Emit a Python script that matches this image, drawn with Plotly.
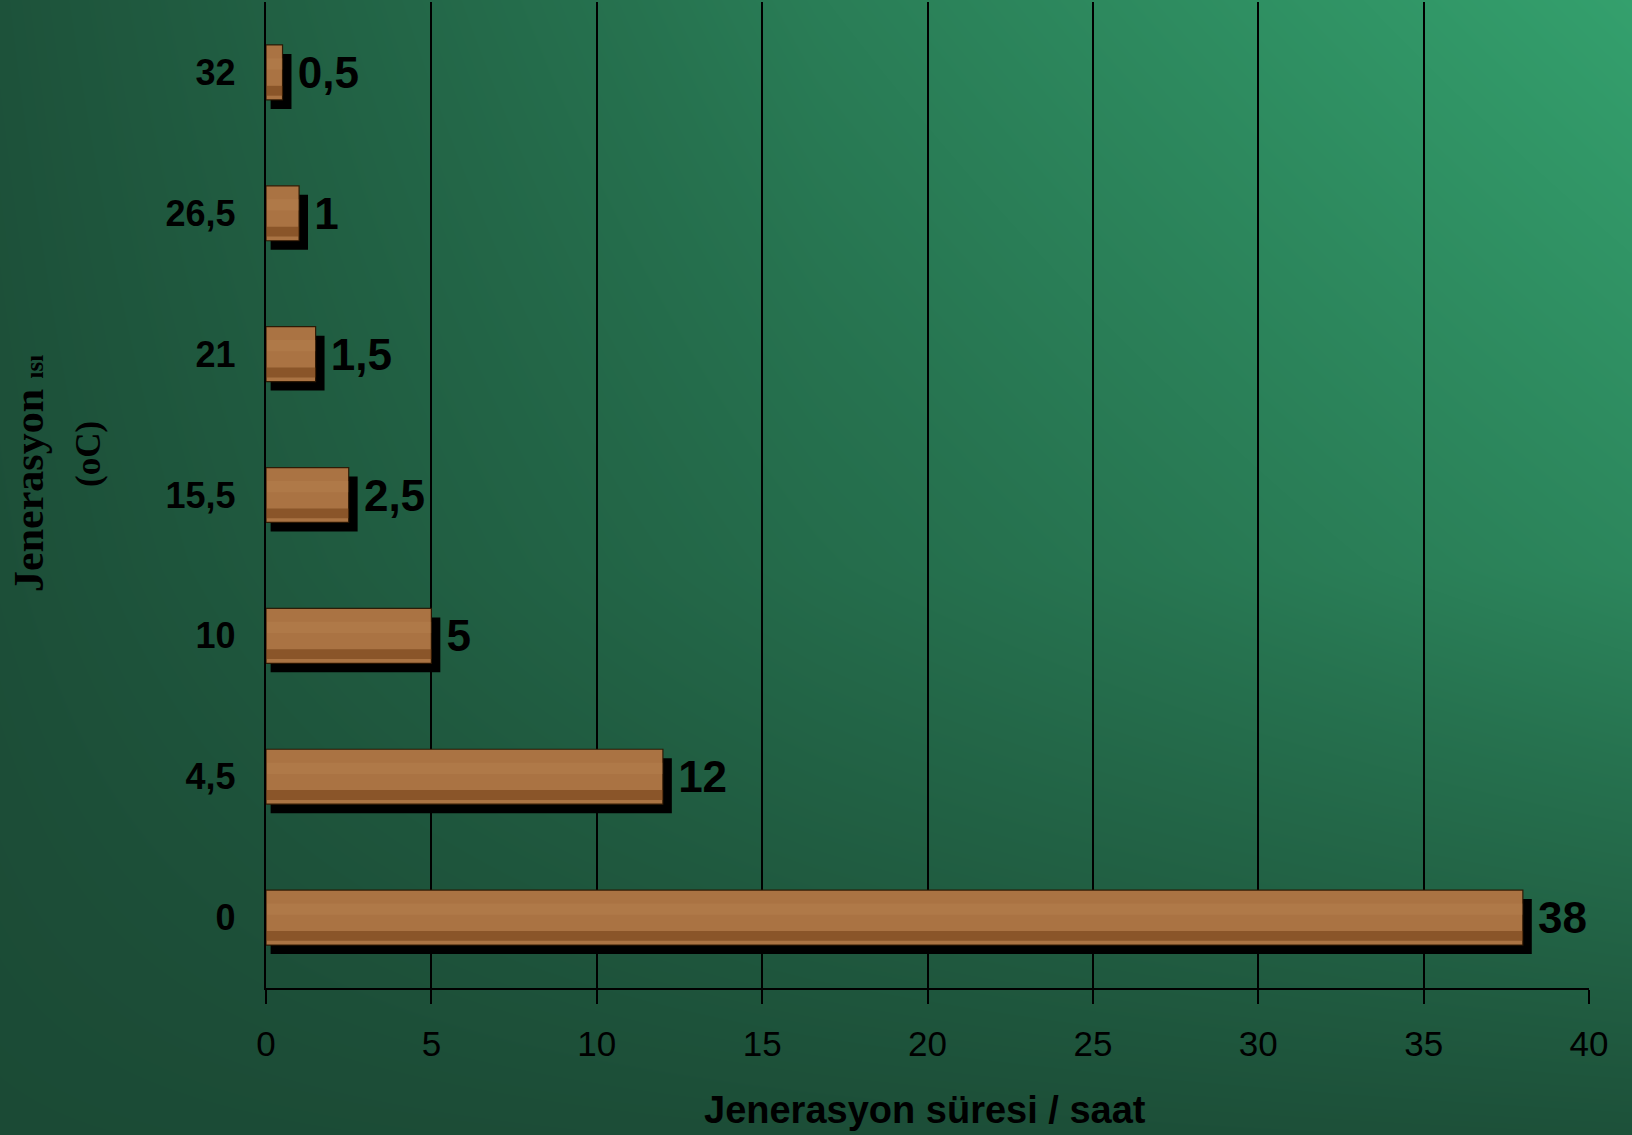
import plotly.graph_objects as go

# ---- data ----
categories = ["0", "4,5", "10", "15,5", "21", "26,5", "32"]
values = [38, 12, 5, 2.5, 1.5, 1, 0.5]
value_labels = ["38", "12", "5", "2,5", "1,5", "1", "0,5"]
x_ticks = [0, 5, 10, 15, 20, 25, 30, 35, 40]

W, H = 1632, 1135

# plot area in pixels
left_px, right_px, top_px, bottom_px = 266, 1589, 2, 988
xdom = [left_px / W, right_px / W]
ydom = [(H - bottom_px) / H, (H - top_px) / H]

BAR_W = 0.39
SHADOW_DY = 0.064

fig = go.Figure()

# background gradient (decorative)
fig.add_trace(go.Heatmap(
    z=[[0.0, 0.04, 0.08],
       [0.06, 0.42, 0.72],
       [0.10, 0.62, 1.0]],
    x=[0, 0.5, 1], y=[0, 0.5, 1],
    zsmooth="best", showscale=False, hoverinfo="skip",
    colorscale=[[0, "#1b4a35"], [0.5, "#26724f"], [1, "#34a06d"]],
    zmin=0, zmax=1, xaxis="x", yaxis="y",
))

# shadow bars
fig.add_trace(go.Bar(
    y=categories, x=[v + 0.13 for v in values], base=[0.14] * len(values),
    orientation="h", width=BAR_W, offset=-BAR_W / 2 - SHADOW_DY,
    marker=dict(color="black", line=dict(width=0)),
    hoverinfo="skip", xaxis="x2", yaxis="y2", showlegend=False,
))

# wood bars
fig.add_trace(go.Bar(
    y=categories, x=values, orientation="h", width=BAR_W,
    marker=dict(
        color="#aa7343",
        line=dict(color="rgba(40,20,0,0.9)", width=1.2),
    ),
    text=["\u00a0" + s for s in value_labels],
    textposition="outside", constraintext="none", cliponaxis=False,
    textfont=dict(family="Arial, Liberation Sans, sans-serif", size=44, color="black", weight="bold"),
    xaxis="x2", yaxis="y2", showlegend=False,
))

# darker wood grain band near the bottom of each bar (decorative)
fig.add_trace(go.Bar(
    y=categories, x=[v - 0.03 for v in values], base=[0.03] * len(values),
    orientation="h", width=0.07, offset=-BAR_W / 2 + 0.03,
    marker=dict(color="rgba(105,55,15,0.5)", line=dict(width=0)),
    hoverinfo="skip", xaxis="x2", yaxis="y2", showlegend=False,
))
fig.add_trace(go.Bar(
    y=categories, x=[v - 0.03 for v in values], base=[0.03] * len(values),
    orientation="h", width=0.08, offset=0.02,
    marker=dict(color="rgba(200,150,100,0.18)", line=dict(width=0)),
    hoverinfo="skip", xaxis="x2", yaxis="y2", showlegend=False,
))

fig.update_layout(
    width=W, height=H,
    margin=dict(l=0, r=0, t=0, b=0, pad=0, autoexpand=False),
    paper_bgcolor="#1c5038",
    plot_bgcolor="rgba(0,0,0,0)",
    barmode="overlay",
    showlegend=False,
    xaxis=dict(domain=[0, 1], range=[0, 1], visible=False, fixedrange=True, automargin=False),
    yaxis=dict(domain=[0, 1], range=[0, 1], visible=False, fixedrange=True, automargin=False),
    xaxis2=dict(
        domain=xdom, anchor="y2", range=[0, 40], tickvals=x_ticks,
        showgrid=True, gridcolor="black", gridwidth=2.4,
        showline=True, linecolor="black", linewidth=2.4,
        ticks="outside", ticklen=14, tickwidth=2.4, tickcolor="black",
        ticklabelstandoff=10, automargin=False,
        tickfont=dict(family="Arial, Liberation Sans, sans-serif", size=35, color="black"),
        zeroline=False,
    ),
    yaxis2=dict(
        domain=ydom, anchor="x2", type="category", categoryorder="array",
        categoryarray=categories, range=[-0.5, 6.5],
        showline=True, linecolor="black", linewidth=2.4,
        showgrid=False, ticks="", ticklabelstandoff=21, automargin=False,
        tickfont=dict(family="Arial, Liberation Sans, sans-serif", size=36, color="black", weight="bold"),
    ),
    annotations=[
        dict(text="Jenerasyon süresi / saat", xref="paper", yref="paper",
             x=925 / W, y=(H - 1110) / H, xanchor="center", yanchor="middle",
             showarrow=False,
             font=dict(family="Arial, Liberation Sans, sans-serif", size=38, color="black", weight="bold")),
        dict(text='Jenerasyon <span style="font-size:25px">ısı</span>', xref="paper", yref="paper",
             x=29 / W, y=(H - 474) / H, xanchor="center", yanchor="middle",
             textangle=-90, showarrow=False,
             font=dict(family="Liberation Serif, Times New Roman, serif", size=42, color="black", weight="bold")),
        dict(text="(oC)", xref="paper", yref="paper",
             x=88 / W, y=(H - 454) / H, xanchor="center", yanchor="middle",
             textangle=-90, showarrow=False,
             font=dict(family="Liberation Serif, Times New Roman, serif", size=35, color="black", weight="bold")),
    ],
)

fig.write_html("out.html")
